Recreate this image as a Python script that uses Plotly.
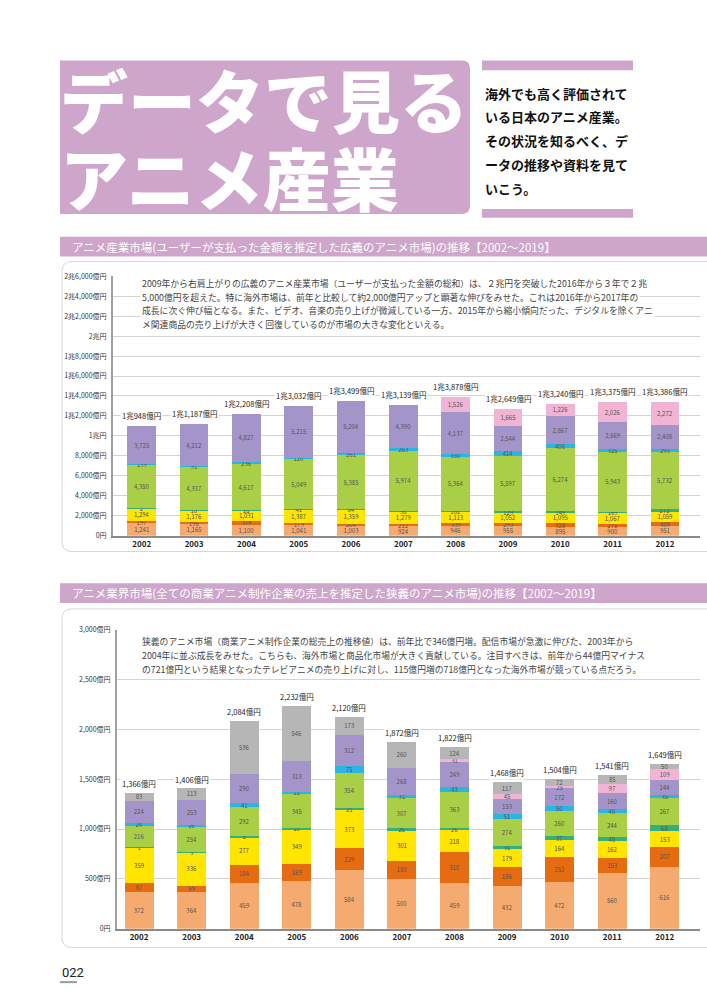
import plotly.graph_objects as go

# ---------------- data ----------------
years = ["2002", "2003", "2004", "2005", "2006", "2007", "2008", "2009", "2010", "2011", "2012"]

# Chart 1: broad anime industry market (億円)
tv1 = [1241, 1165, 1100, 1041, 1003, 924, 946, 955, 895, 900, 951]
movie1 = [197, 196, 379, 179, 204, 212, 339, 293, 328, 276, 409]
video1 = [1294, 1176, 1031, 1387, 1359, 1279, 1113, 1052, 1095, 1067, 1059]
haishin1 = [2, 10, 18, 41, 84, 98, 102, 129, 149, 169, 272]
merch1 = [4350, 4337, 4617, 5049, 5385, 5974, 5364, 5597, 6274, 5943, 5732]
music1 = [139, 91, 236, 120, 261, 263, 350, 414, 406, 325, 293]
overseas1 = [3725, 4212, 4827, 5215, 5204, 4390, 4137, 2544, 2867, 2669, 2408]
yukyo1 = [None, None, None, None, None, None, 1526, 1665, 1226, 2026, 2272]
totals1 = [10948, 11187, 12208, 13032, 13499, 13139, 13878, 12649, 13240, 13375, 13386]
yticks1 = [0, 2000, 4000, 6000, 8000, 10000, 12000, 14000, 16000, 18000, 20000, 22000, 24000, 26000]

# Chart 2: narrow anime industry market (億円)
tv2 = [372, 364, 459, 478, 584, 500, 459, 432, 472, 560, 616]
movie2 = [87, 69, 184, 169, 229, 180, 310, 186, 252, 153, 207]
video2 = [359, 336, 277, 349, 373, 301, 218, 179, 164, 162, 153]
haishin2 = [1, 3, 5, 10, 21, 26, 26, 31, 37, 40, 68]
merch2 = [216, 254, 292, 345, 354, 307, 363, 274, 260, 244, 267]
music2 = [24, 16, 41, 21, 75, 31, 43, 51, 50, 40, 35]
overseas2 = [224, 253, 290, 313, 312, 268, 249, 153, 172, 160, 144]
yukyo2 = [None, None, None, None, None, None, 31, 45, 25, 97, 109]
other2 = [83, 113, 536, 546, 173, 260, 124, 117, 72, 85, 50]
totals2 = [1366, 1406, 2084, 2232, 2120, 1872, 1822, 1468, 1504, 1541, 1649]
yticks2 = [0, 500, 1000, 1500, 2000, 2500, 3000]

title_lines = ["データで見る", "アニメ産業"]
lead_lines = ["海外でも高く評価されて", "いる日本のアニメ産業。", "その状況を知るべく、デ", "ータの推移や資料を見て", "いこう。"]
head1 = "アニメ産業市場(ユーザーが支払った金額を推定した広義のアニメ市場)の推移【2002～2019】"
head2 = "アニメ業界市場(全ての商業アニメ制作企業の売上を推定した狭義のアニメ市場)の推移【2002～2019】"
para1 = [
    "2009年から右肩上がりの広義のアニメ産業市場（ユーザーが支払った金額の総和）は、２兆円を突破した2016年から３年で２兆",
    "5,000億円を超えた。特に海外市場は、前年と比較して約2,000億円アップと顕著な伸びをみせた。これは2016年から2017年の",
    "成長に次ぐ伸び幅となる。また、ビデオ、音楽の売り上げが微減している一方、2015年から縮小傾向だった、デジタルを除くアニ",
    "メ関連商品の売り上げが大きく回復しているのが市場の大きな変化といえる。",
]
para2 = [
    "狭義のアニメ市場（商業アニメ制作企業の総売上の推移値）は、前年比で346億円増。配信市場が急激に伸びた、2003年から",
    "2004年に並ぶ成長をみせた。こちらも、海外市場と商品化市場が大きく貢献している。注目すべきは、前年から44億円マイナス",
    "の721億円という結果となったテレビアニメの売り上げに対し、115億円増の718億円となった海外市場が競っている点だろう。",
]
page_no = "022"

# ---------------- style ----------------
W, H = 707, 1000
JP = "Noto Sans CJK JP"
PURPLE = "#CEA5CB"
C = {
    "tv": "#F5AA6F", "movie": "#E66C12", "video": "#FFE500", "haishin": "#33B07E",
    "merch": "#A9CF46", "music": "#2BB5E2", "overseas": "#A395C9", "yukyo": "#F2B4D5",
    "other": "#B6B6B6",
}


def X(px):
    return px / W


def Y(py):
    return 1 - py / H


def oku_label(v):
    if v == 0:
        return "0円"
    cho, oku = divmod(v, 10000)
    if cho and oku:
        return f"{cho}兆{oku:,}億円"
    if cho:
        return f"{cho}兆円"
    return f"{oku:,}億円"


fig = go.Figure()
xs = list(range(len(years)))

series1 = [("テレビ", tv1, "tv"), ("映画", movie1, "movie"), ("ビデオ", video1, "video"),
           ("配信", haishin1, "haishin"), ("商品化", merch1, "merch"), ("音楽", music1, "music"),
           ("海外", overseas1, "overseas"), ("遊興", yukyo1, "yukyo")]
series2 = [("テレビ", tv2, "tv"), ("映画", movie2, "movie"), ("ビデオ", video2, "video"),
           ("配信", haishin2, "haishin"), ("商品化", merch2, "merch"), ("音楽", music2, "music"),
           ("海外", overseas2, "overseas"), ("遊興", yukyo2, "yukyo"), ("その他", other2, "other")]

for name, vals, key in series1:
    fig.add_trace(go.Bar(x=xs, y=vals, name=name, marker=dict(color=C[key], line=dict(width=0)),
                         width=0.55, texttemplate="%{y:,}", textposition="inside",
                         insidetextanchor="middle", textangle=0,
                         textfont=dict(size=6, color="#555", family=JP),
                         xaxis="x", yaxis="y", showlegend=False, hoverinfo="skip"))
for name, vals, key in series2:
    fig.add_trace(go.Bar(x=xs, y=vals, name=name, marker=dict(color=C[key], line=dict(width=0)),
                         width=0.55, texttemplate="%{y:,}", textposition="inside",
                         insidetextanchor="middle", textangle=0,
                         textfont=dict(size=6, color="#555", family=JP),
                         xaxis="x2", yaxis="y2", showlegend=False, hoverinfo="skip"))

ann = []
for i, t in enumerate(totals1):
    ann.append(dict(x=i, y=t, xref="x", yref="y", text=oku_label(t), showarrow=False,
                    yanchor="bottom", yshift=3, bgcolor="white",
                    font=dict(size=7.5, color="#222", family=JP)))
for i, t in enumerate(totals2):
    ann.append(dict(x=i, y=t, xref="x2", yref="y2", text=oku_label(t), showarrow=False,
                    yanchor="bottom", yshift=2, bgcolor="white",
                    font=dict(size=7.5, color="#222", family=JP)))

# title
for k, line in enumerate(title_lines):
    ann.append(dict(x=X(58), y=Y(93 + 79 * k), xref="paper", yref="paper", text=line,
                    showarrow=False, xanchor="left", yanchor="middle",
                    font=dict(size=68, color="white", family=JP, weight=900)))
for k, line in enumerate(lead_lines):
    ann.append(dict(x=X(483), y=Y(88 + 24 * k), xref="paper", yref="paper", text=line,
                    showarrow=False, xanchor="left", yanchor="middle",
                    font=dict(size=13, color="#111", family=JP, weight=700)))
# section headers
for txt, py in [(head1, 243), (head2, 593)]:
    ann.append(dict(x=X(70), y=Y(py), xref="paper", yref="paper", text=txt, showarrow=False,
                    xanchor="left", yanchor="middle", font=dict(size=11.5, color="white", family=JP)))
# paragraphs
for k, line in enumerate(para1):
    ann.append(dict(x=X(140), y=Y(280 + 14 * k), xref="paper", yref="paper", text=line,
                    showarrow=False, xanchor="left", yanchor="middle", bgcolor="white",
                    font=dict(size=8.8, color="#444", family=JP)))
for k, line in enumerate(para2):
    ann.append(dict(x=X(140), y=Y(642 + 14 * k), xref="paper", yref="paper", text=line,
                    showarrow=False, xanchor="left", yanchor="middle", bgcolor="white",
                    font=dict(size=8.8, color="#444", family=JP)))
ann.append(dict(x=X(60), y=Y(976), xref="paper", yref="paper", text=page_no, showarrow=False,
                xanchor="left", yanchor="middle", font=dict(size=13, color="#222", family="Roboto")))

shapes = []
# title box with rounded right corners
x0, x1, y0, y1, r = X(60), X(470), Y(55), Y(210), 8 / W
ry = 8 / H
shapes.append(dict(type="path", xref="paper", yref="paper", fillcolor=PURPLE, line=dict(width=0),
                   path=f"M {x0},{y0} L {x1 - r},{y0} Q {x1},{y0} {x1},{y0 - ry} L {x1},{y1 + ry} "
                        f"Q {x1},{y1} {x1 - r},{y1} L {x0},{y1} Z"))
for (a, b) in [(55, 65), (205, 214)]:
    shapes.append(dict(type="rect", xref="paper", yref="paper", x0=X(482), x1=X(633), y0=Y(a), y1=Y(b),
                       fillcolor=PURPLE, line=dict(width=0)))
for (a, b) in [(233, 253), (583, 603)]:
    shapes.append(dict(type="rect", xref="paper", yref="paper", x0=X(60), x1=X(707), y0=Y(a), y1=Y(b),
                       fillcolor=PURPLE, line=dict(width=0)))
# chart frames (rounded left corners, open to the right)
for (a, b) in [(258, 551), (609, 951)]:
    lx, tx, rr, rry = X(62), X(710), 10 / W, 10 / H
    shapes.append(dict(type="path", xref="paper", yref="paper", line=dict(color="#d6d6d6", width=1),
                       path=f"M {tx},{Y(a)} L {lx + rr},{Y(a)} Q {lx},{Y(a)} {lx},{Y(a) - rry} "
                            f"L {lx},{Y(b) + rry} Q {lx},{Y(b)} {lx + rr},{Y(b)} L {tx},{Y(b)}"))
shapes.append(dict(type="line", xref="paper", yref="paper", x0=X(60), x1=X(77), y0=Y(986), y1=Y(986),
                   line=dict(color="#999", width=2)))

axis_common = dict(showgrid=False, showline=True, linecolor="#8a8a8a", linewidth=2, ticks="",
                   tickfont=dict(size=8, color="#222", family=JP, weight=700), zeroline=False,
                   fixedrange=True)
yaxis_common = dict(showgrid=True, gridcolor="#d4d4d4", gridwidth=1, showline=True, linecolor="#a0a0a0",
                    linewidth=2, ticks="", tickfont=dict(size=7, color="#333", family=JP), zeroline=False,
                    ticklabelstandoff=3)

fig.update_layout(
    width=W, height=H, margin=dict(l=0, r=0, t=0, b=0),
    paper_bgcolor="white", plot_bgcolor="white", barmode="stack",
    uniformtext=dict(minsize=6, mode="show"),
    xaxis=dict(domain=[X(113), X(700)], range=[-0.55, 10.67], tickvals=xs, ticktext=years,
               anchor="y", **axis_common),
    yaxis=dict(domain=[Y(535), Y(273)], range=[0, 26000], tickvals=yticks1,
               ticktext=[oku_label(v) for v in yticks1], anchor="x", **yaxis_common),
    xaxis2=dict(domain=[X(117), X(700)], range=[-0.42, 10.67], tickvals=xs, ticktext=years,
                anchor="y2", **axis_common),
    yaxis2=dict(domain=[Y(932), Y(630)], range=[0, 3000], tickvals=yticks2,
                ticktext=[oku_label(v) for v in yticks2], anchor="x2", **yaxis_common),
    annotations=ann, shapes=shapes,
)

fig.write_html("out.html")
